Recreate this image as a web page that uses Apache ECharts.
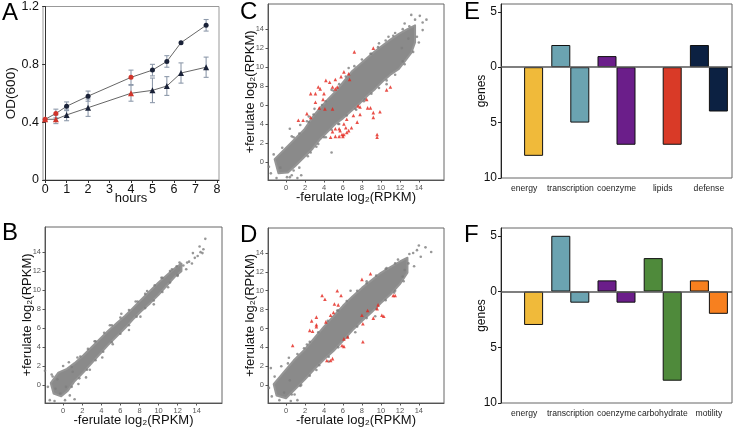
<!DOCTYPE html>
<html><head><meta charset="utf-8">
<script src="https://cdn.jsdelivr.net/npm/echarts@6/dist/echarts.min.js"></script>
<style>html,body{margin:0;padding:0;background:#fff}#c{width:733px;height:428px}</style>
</head><body><div id="c"></div><script>
const FONT = '"Liberation Sans", Arial, Helvetica, sans-serif';

// ---------- Panel A: growth curves ----------
const hours      = [0, 0.5, 1, 2, 4, 5, 5.67, 6.33, 7.5];
const odUpper    = [0.42, 0.46, 0.51, 0.58, 0.71, 0.76, 0.82, 0.95, 1.07];
const odUpperErr = [0, 0.03, 0.03, 0.035, 0.05, 0.04, 0.04, 0, 0.04];
const odLower    = [0.42, 0.42, 0.45, 0.50, 0.60, 0.62, 0.65, 0.74, 0.78];
const odLowerErr = [0, 0.03, 0.04, 0.06, 0.055, 0.085, 0.065, 0.07, 0.07];
const sampledIdx = [0, 1, 4];
const hourTicks  = [0, 1, 2, 3, 4, 5, 6, 7, 8];

// ---------- Scatter panels (log2 RPKM) ----------
const rpkmTicks = [0, 2, 4, 6, 8, 10, 12, 14];

const bandB = [[-1.3,0.2],[-0.5,1.3],[0.4,1.7],[1.2,2.3],[2.1,3.1],[3.0,4.0],[3.8,4.8],[4.7,5.7],[5.6,6.5],[6.5,7.3],[7.3,8.1],[8.2,9.0],[9.1,9.9],[10.0,10.8],[10.8,11.5],[11.7,12.3],[12.4,12.8],
  [12.4,12.0],[11.7,11.4],[10.8,10.4],[10.0,9.5],[9.1,8.6],[8.2,7.8],[7.3,6.9],[6.5,6.0],[5.6,5.1],[4.7,4.2],[3.8,3.2],[3.0,2.3],[2.1,1.3],[1.2,0.4],[0.5,-0.6],[-0.2,-1.2],[-1.0,-0.9]];
const ptsB = [[-1.9,1.5],[-1.2,1.1],[-1.6,-0.2],[-1.4,-1.6],[-0.9,-1.7],[0.2,-1.6],[1.2,-1.5],[-0.6,0.6],[-1.1,0.9],[0.0,2.0],[0.6,2.4],[0.9,1.9],[1.5,2.9],[1.6,0.1],[2.4,0.8],[2.8,1.6],[3.3,4.6],[4.1,2.9],[4.9,6.3],[5.2,4.3],[6.1,7.5],[6.9,5.8],[7.6,8.8],[8.1,7.2],[8.8,9.9],[9.5,8.5],[10.3,11.3],[11.0,10.3],[11.4,12.2],[12.0,11.6],[12.6,12.6],[12.9,12.2],[13.2,13.0],[13.5,12.8],[13.8,13.4],[14.1,13.6],[14.4,14.0],[13.6,13.9],[14.7,14.3],[14.9,15.4],[14.3,14.6],[12.2,12.9],[11.9,12.5],[13.0,12.9],[14.6,13.9],[-0.3,-0.9],[0.3,-0.2],[1.0,1.4],[-0.8,-0.4],[0.7,-1.1],
  [1.8,3.0],[2.6,3.8],[3.4,4.6],[4.3,5.5],[5.1,6.3],[6.0,7.1],[6.9,7.9],[7.8,8.8],[8.6,9.6],[9.6,10.5],[10.4,11.3],[11.2,12.0],[0.9,-0.2],[1.7,0.7],[2.5,1.6],[3.4,2.6],[4.2,3.5],[5.1,4.5],[6.0,5.4],[6.9,6.3],[7.7,7.2],[8.6,8.1],[9.5,8.9],[10.4,9.8],[11.2,10.8],[12.0,11.5]];

const bandC = [[-1.2,0.3],[0.2,1.7],[1.9,3.4],[3.0,5.0],[3.6,5.7],[4.5,6.7],[5.2,7.4],[6.0,8.4],[6.9,9.5],[7.8,10.3],[8.6,11.0],[9.4,11.7],[10.2,12.3],[11.0,12.9],[11.9,13.5],[12.8,14.0],[13.6,14.4],
  [13.6,12.6],[13.2,11.5],[11.9,9.8],[11.0,9.2],[10.2,8.5],[9.4,7.7],[8.6,7.0],[7.8,6.2],[6.9,5.4],[6.0,4.6],[5.2,4.0],[4.4,3.2],[3.6,2.4],[2.8,1.4],[1.9,0.5],[1.0,-0.4],[0.2,-1.1],[-0.8,-1.2]];
const ptsC = [[-1.3,0.8],[-0.4,1.5],[0.6,2.7],[0.4,3.5],[-1.6,-1.2],[-1.0,-1.7],[0.1,-1.6],[0.6,-1.4],[1.2,-1.7],[1.6,-1.4],[0.8,-0.9],[1.5,3.9],[2.2,4.3],[2.6,1.0],[3.0,5.6],[3.4,1.9],[4.2,2.6],[4.8,1.0],[4.8,7.6],[6.6,9.9],[7.4,5.5],[8.3,6.6],[9.0,11.4],[10.6,8.2],[13.2,15.5],[14.1,15.4],[13.6,15.0],[14.4,14.7],[14.8,15.0],[12.5,14.6],[12.2,12.0],[13.8,13.2],[14.4,13.9],[11.5,13.6],[12.9,13.0],[10.8,13.2],[-1.8,-0.5],[-0.6,-0.6],[2.4,4.8],[5.6,4.0],[9.8,12.5],[12.3,10.6],
  [0.8,2.6],[1.4,3.0],[2.4,4.2],[2.9,5.0],[3.8,6.0],[4.2,6.4],[5.0,7.5],[5.6,8.2],[6.3,9.0],[7.2,10.1],[8.0,10.8],[8.9,11.4],[9.7,12.1],[10.5,12.8],[11.3,13.3],[12.3,14.0],[13.0,14.3],
  [0.4,-1.6],[1.4,-0.6],[2.3,0.6],[3.2,1.6],[4.0,2.6],[4.8,3.4],[5.5,4.0],[6.4,4.9],[7.3,5.6],[8.2,6.4],[9.0,7.2],[9.8,7.8],[10.6,8.6],[11.5,9.2],[12.5,10.3],[13.4,11.6],[14.0,12.6]];
const redC = [[7.2,11.6],[9.2,12.0],[10.6,7.6],[11.0,7.9],[6.1,9.5],[5.8,9.0],[5.2,8.7],[4.2,8.6],[4.6,8.4],[3.4,7.9],[3.6,7.7],[2.6,7.2],[3.1,7.2],[4.0,7.2],[4.9,7.9],[5.2,7.7],[5.4,7.9],[6.6,9.3],[6.7,8.7],[3.9,6.6],[3.1,6.3],[3.5,5.7],[4.1,5.6],[4.9,5.6],[1.3,4.4],[1.8,4.4],[2.2,5.1],[2.6,4.7],[7.6,5.9],[7.8,5.8],[8.5,6.6],[8.9,5.7],[9.2,5.2],[8.6,5.7],[7.8,5.0],[7.1,4.9],[9.9,5.3],[9.2,4.7],[6.9,3.6],[7.5,4.2],[6.4,4.5],[6.1,4.0],[6.3,3.6],[5.7,3.3],[5.9,2.9],[5.6,2.7],[6.1,2.9],[4.9,3.2],[5.2,2.7],[4.7,2.6],[6.4,3.1],[6.6,3.3],[6.0,2.7],[9.6,2.9],[9.6,2.6],[5.2,3.5],[5.6,3.5]];

const bandD = [[-1.3,0.1],[-0.3,1.3],[0.8,2.6],[2.0,3.8],[3.0,5.0],[4.0,6.2],[5.0,7.3],[6.0,8.4],[7.0,9.4],[8.0,10.3],[9.0,11.1],[10.0,11.9],[11.0,12.5],[12.0,13.1],[12.8,13.5],
  [12.8,11.9],[12.0,10.7],[11.0,9.6],[10.0,8.7],[9.0,7.7],[8.0,6.8],[7.0,5.8],[6.0,4.7],[5.0,3.6],[4.0,2.7],[3.0,1.7],[2.0,0.6],[1.0,-0.4],[0.0,-1.4],[-1.0,-1.1]];
const ptsD = [[-1.6,1.8],[-1.2,0.9],[-0.5,2.0],[0.3,2.9],[-1.5,-1.2],[-0.7,-1.6],[0.5,-1.7],[1.2,-1.6],[0.9,-1.0],[1.9,3.9],[-1.8,-0.3],[1.6,0.0],[2.5,4.6],[3.2,1.6],[4.5,2.5],[5.5,7.9],[6.8,10.0],[7.3,5.6],[8.5,11.0],[9.4,7.3],[10.6,12.4],[11.4,9.8],[14.7,14.6],[15.3,14.1],[13.4,14.0],[13.8,14.3],[14.2,13.6],[12.9,12.9],[13.5,12.6],[12.5,12.2],[11.8,13.3],[13.0,13.9],[14.0,14.8],[12.3,11.5],[-0.2,-0.8],[0.4,0.5],
  [0.2,2.3],[1.2,3.3],[2.2,4.3],[3.4,5.6],[4.4,6.8],[5.4,7.9],[6.4,8.9],[7.5,10.0],[8.5,10.8],[9.5,11.6],[10.5,12.3],[11.5,12.9],
  [0.6,-1.0],[1.5,-0.1],[2.5,1.0],[3.5,2.1],[4.5,3.0],[5.5,4.0],[6.5,5.1],[7.5,6.2],[8.5,7.1],[9.5,8.1],[10.5,9.0],[11.5,10.0],[12.4,11.0]];
const redD = [[8.9,11.8],[8.0,11.2],[5.4,10.0],[3.8,9.5],[4.1,9.1],[5.8,9.5],[5.1,8.6],[5.5,8.5],[4.7,7.4],[5.0,7.7],[3.2,7.2],[4.2,6.7],[3.2,6.4],[3.2,6.2],[2.7,6.8],[2.5,5.8],[2.8,5.7],[0.7,4.2],[8.0,7.4],[8.1,6.5],[9.2,7.1],[9.7,8.5],[9.6,8.1],[8.6,7.9],[10.1,7.4],[10.3,7.3],[11.3,9.5],[11.5,9.5],[8.1,4.6],[6.1,4.9],[6.5,5.1],[5.9,4.2],[6.1,4.1],[4.7,2.6],[4.9,2.8],[4.3,2.6]];

// ---------- Panels E / F: gene counts ----------
const catsE   = ['energy', 'transcription', 'coenzyme', 'lipids', 'defense'];
const upE     = [0, 2, 1, 0, 2];
const downE   = [8, 5, 7, 7, 4];
const colorsE = ['#F0BA3A', '#6BA3B1', '#6B1E8A', '#D93A27', '#0C2142'];

const catsF   = ['energy', 'transcription', 'coenzyme', 'carbohydrate', 'motility'];
const upF     = [0, 5, 1, 3, 1];
const downF   = [3, 1, 1, 8, 2];
const colorsF = ['#F0BA3A', '#6BA3B1', '#6B1E8A', '#4F8A3B', '#F7801F'];
const geneTicks = [-10, -5, 0, 5];

// ---------- build ----------
const chart = echarts.init(document.getElementById('c'), null, {renderer: 'canvas'});
const RED = '#D0352B', NAVY = '#1A2238';

const grids = [
  {left: 43, top: 4, width: 176, height: 176},    // A
  {left: 45, top: 227, width: 177, height: 176},  // B
  {left: 268, top: 4, width: 176, height: 176},   // C
  {left: 268, top: 228, width: 176, height: 176}, // D
  {left: 501, top: 4, width: 231, height: 174},   // E
  {left: 501, top: 228, width: 231, height: 175}  // F
].map(g => Object.assign({show: true, borderColor: '#666', borderWidth: 1, containLabel: false}, g));
grids[0].borderColor = '#999';

const xAxes = [], yAxes = [], series = [];

// A axes
xAxes.push({gridIndex: 0, type: 'value', min: -0.1, max: 8.1,
  axisLine: {show: true, onZero: false, lineStyle: {color: '#333'}},
  axisTick: {show: true, length: 3, customValues: hourTicks, lineStyle: {color: '#333'}},
  axisLabel: {customValues: hourTicks, fontSize: 12.5, color: '#111', margin: 3, fontFamily: FONT},
  splitLine: {show: false},
  name: 'hours', nameLocation: 'middle', nameGap: 12, nameMoveOverlap: false,
  nameTextStyle: {fontSize: 13, color: '#111', fontFamily: FONT}});
yAxes.push({gridIndex: 0, type: 'value', min: 0, max: 1.2, interval: 0.4,
  axisLine: {show: true, lineStyle: {color: '#333'}},
  axisTick: {show: true, length: 3, lineStyle: {color: '#333'}},
  axisLabel: {fontSize: 12.5, color: '#111', margin: 4, fontFamily: FONT},
  splitLine: {show: false},
  name: 'OD(600)', nameLocation: 'middle', nameGap: 25, nameMoveOverlap: false,
  nameTextStyle: {fontSize: 13.5, color: '#111', fontFamily: FONT}});

// scatter axes
function scatterAxes(gi) {
  xAxes.push({gridIndex: gi, type: 'value', min: -1.9, max: 16.65,
    axisLine: {show: true, onZero: false, lineStyle: {color: '#555'}},
    axisTick: {show: true, length: 2.5, customValues: rpkmTicks, lineStyle: {color: '#555'}},
    axisLabel: {customValues: rpkmTicks, fontSize: 7.5, color: '#555', margin: 4, fontFamily: FONT},
    splitLine: {show: false},
    name: '-ferulate log₂(RPKM)', nameLocation: 'middle', nameGap: 11, nameMoveOverlap: false,
    nameTextStyle: {fontSize: 13, color: '#111', fontFamily: FONT}});
  yAxes.push({gridIndex: gi, type: 'value', min: -1.9, max: 16.65,
    axisLine: {show: true, onZero: false, lineStyle: {color: '#555'}},
    axisTick: {show: true, length: 2.5, customValues: rpkmTicks, lineStyle: {color: '#555'}},
    axisLabel: {customValues: rpkmTicks, fontSize: 7.5, color: '#555', margin: 4, fontFamily: FONT},
    splitLine: {show: false},
    name: '+ferulate log₂(RPKM)', nameLocation: 'middle', nameGap: 11, nameMoveOverlap: false,
    nameTextStyle: {fontSize: 13, color: '#111', fontFamily: FONT}});
}
scatterAxes(1); scatterAxes(2); scatterAxes(3);

function barAxes(gi, cats) {
  xAxes.push({gridIndex: gi, type: 'category', data: cats,
    axisLine: {show: false}, axisTick: {show: false},
    axisLabel: {interval: 0, fontSize: 8.6, color: '#222', margin: 6, fontFamily: FONT},
    splitLine: {show: false}});
  yAxes.push({gridIndex: gi, type: 'value', min: -10, max: 5.7,
    axisLine: {show: true, lineStyle: {color: '#222'}},
    axisTick: {show: true, length: 3, customValues: geneTicks, lineStyle: {color: '#222'}},
    axisLabel: {customValues: geneTicks, fontSize: 12, color: '#111', margin: 4, fontFamily: FONT,
      formatter: v => String(Math.abs(v))},
    splitLine: {show: false},
    name: 'genes', nameLocation: 'middle', nameGap: 13, nameMoveOverlap: false,
    nameTextStyle: {fontSize: 12, color: '#111', fontFamily: FONT}});
}
barAxes(4, catsE); barAxes(5, catsF);

// A series
function errSeries(vals, errs) {
  return {type: 'custom', xAxisIndex: 0, yAxisIndex: 0, z: 2, silent: true,
    data: hours.map((h, i) => [h, vals[i], errs[i]]),
    renderItem: (p, api) => {
      const x = api.value(0), y = api.value(1), e = api.value(2);
      if (!e) return null;
      const t = api.coord([x, y + e]), b = api.coord([x, y - e]);
      const st = {stroke: '#8E9AAB', lineWidth: 1.1};
      return {type: 'group', children: [
        {type: 'line', shape: {x1: t[0], y1: t[1], x2: b[0], y2: b[1]}, style: st},
        {type: 'line', shape: {x1: t[0] - 2.5, y1: t[1], x2: t[0] + 2.5, y2: t[1]}, style: st},
        {type: 'line', shape: {x1: b[0] - 2.5, y1: b[1], x2: b[0] + 2.5, y2: b[1]}, style: st}]};
    }};
}
series.push(errSeries(odUpper, odUpperErr));
series.push(errSeries(odLower, odLowerErr));
function growthLine(vals, sym, size) {
  return {type: 'line', xAxisIndex: 0, yAxisIndex: 0, z: 3, symbol: sym, symbolSize: size,
    lineStyle: {color: '#555', width: 0.9},
    data: hours.map((h, i) => ({value: [h, vals[i]],
      itemStyle: {color: sampledIdx.includes(i) ? RED : NAVY, borderWidth: 0}}))};
}
series.push(growthLine(odUpper, 'circle', 5));
series.push(growthLine(odLower, 'triangle', 6));

// scatter series
function bandSeries(gi, band) {
  return {type: 'custom', xAxisIndex: gi, yAxisIndex: gi, silent: true, clip: true, z: 2,
    data: [[band[0][0], band[0][1]]],
    renderItem: (p, api) => ({type: 'polygon',
      shape: {points: band.map(pt => api.coord(pt))},
      style: {fill: '#8a8a8a', stroke: '#959595', lineWidth: 2, lineJoin: 'round'}})};
}
function ptsSeries(gi, pts) {
  return {type: 'scatter', xAxisIndex: gi, yAxisIndex: gi, symbolSize: 2.6, z: 3, silent: true,
    itemStyle: {color: '#7d7d7d'}, data: pts};
}
function redSeries(gi, pts) {
  return {type: 'scatter', xAxisIndex: gi, yAxisIndex: gi, symbol: 'triangle', symbolSize: 3.6, z: 4, silent: true,
    itemStyle: {color: '#E3241C'}, data: pts};
}
series.push(bandSeries(1, bandB), ptsSeries(1, ptsB));
series.push(bandSeries(2, bandC), ptsSeries(2, ptsC), redSeries(2, redC));
series.push(bandSeries(3, bandD), ptsSeries(3, ptsD), redSeries(3, redD));

// bar series
function barSeries(gi, ups, downs, colors) {
  const common = {type: 'bar', xAxisIndex: gi, yAxisIndex: gi, barWidth: 19, barGap: '0%', silent: true};
  return [
    Object.assign({}, common, {
      data: ups.map((v, i) => v ? {value: v, itemStyle: {color: colors[i], borderColor: '#111', borderWidth: 1}} : '-'),
      markLine: {silent: true, symbol: ['none', 'none'], label: {show: false},
        lineStyle: {color: '#555', width: 1.5, type: 'solid'}, data: [{yAxis: 0}]}}),
    Object.assign({}, common, {
      data: downs.map((v, i) => v ? {value: -v, itemStyle: {color: colors[i], borderColor: '#111', borderWidth: 1}} : '-')})
  ];
}
series.push(...barSeries(4, upE, downE, colorsE));
series.push(...barSeries(5, upF, downF, colorsF));

const letters = [['A', 2, 14], ['B', 2, 234], ['C', 240, 13], ['D', 240, 236], ['E', 464, 13], ['F', 464, 236]];

chart.setOption({
  animation: false,
  backgroundColor: '#fff',
  grid: grids, xAxis: xAxes, yAxis: yAxes, series: series,
  graphic: letters.map(([t, x, y]) => ({type: 'text', left: x, top: y - 13,
    style: {text: t, fontSize: 24, fontFamily: FONT, fill: '#000'}}))
});
</script></body></html>
